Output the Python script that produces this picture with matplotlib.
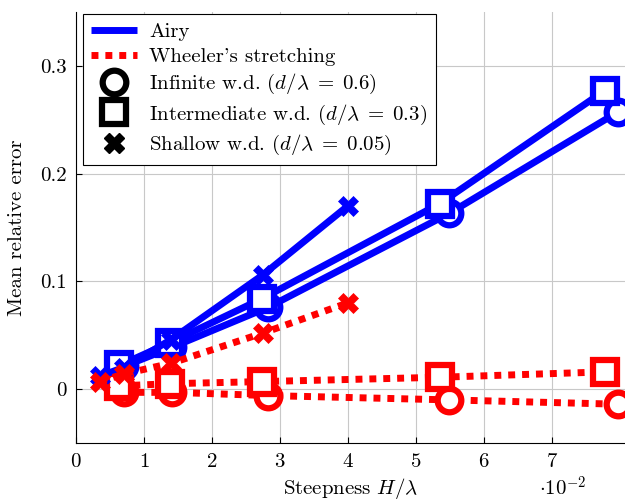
import matplotlib.pyplot as plt
from matplotlib.lines import Line2D

plt.rcParams['font.family'] = 'serif'
plt.rcParams['font.serif'] = ['cmr10']
plt.rcParams['mathtext.fontset'] = 'cm'
plt.rcParams['axes.formatter.use_mathtext'] = True

FS = 15

# steepness (x 1e-2) for each water depth
x_inf = [0.70, 1.42, 2.83, 5.49, 7.97]
x_int = [0.64, 1.38, 2.74, 5.35, 7.78]
x_sha = [0.35, 0.70, 1.40, 2.75, 4.00]

# Airy
airy_inf = [0.021, 0.039, 0.076, 0.163, 0.257]
airy_int = [0.022, 0.043, 0.084, 0.172, 0.277]
airy_sha = [0.012, 0.020, 0.046, 0.106, 0.170]

# Wheeler's stretching
wheel_inf = [-0.003, -0.003, -0.006, -0.010, -0.014]
wheel_int = [0.003, 0.005, 0.007, 0.011, 0.016]
wheel_sha = [0.007, 0.014, 0.024, 0.052, 0.080]

fig = plt.figure(figsize=(6.25, 5.01), dpi=100)
ax = fig.add_axes([0.1216, 0.1158, 0.8784, 0.8602])

lw = 5
ms = 17
mew = 4.5
dots = (0, (1, 1))

series = [
    (x_inf, airy_inf, wheel_inf, 'o'),
    (x_int, airy_int, wheel_int, 's'),
    (x_sha, airy_sha, wheel_sha, 'X'),
]
for xs, ya, yw, m in series:
    if m == 'X':
        kw = dict(marker='X', markersize=15, markeredgewidth=0.5)
        fa, fw = 'blue', 'red'
    else:
        kw = dict(marker=m, markersize=ms, markeredgewidth=mew)
        fa = fw = 'white'
    ax.plot(xs, ya, color='blue', lw=lw, solid_capstyle='butt',
            markerfacecolor=fa, markeredgecolor='blue', **kw)
    ax.plot(xs, yw, color='red', lw=lw, linestyle=dots, dash_capstyle='butt',
            markerfacecolor=fw, markeredgecolor='red', **kw)

ax.set_xlim(0, 8.08)
ax.set_ylim(-0.05, 0.35)
ax.set_xticks(range(8))
ax.set_yticks([0, 0.1, 0.2, 0.3])
ax.set_yticklabels(['0', '0.1', '0.2', '0.3'])
ax.grid(True, color='#c8c8c8', lw=0.8)
ax.set_axisbelow(True)
ax.spines['top'].set_visible(False)
ax.spines['right'].set_visible(False)
ax.tick_params(direction='in', length=4, width=0.8, labelsize=FS, pad=7)
ax.set_xlabel(r'Steepness $H/\lambda$', fontsize=FS, labelpad=4)
ax.set_ylabel('Mean relative error', fontsize=FS, labelpad=10)
fig.text(0.862, 0.002, r'$\cdot10^{-2}$', fontsize=FS, ha='left', va='bottom')

handles = [
    Line2D([], [], color='blue', lw=lw, solid_capstyle='butt'),
    Line2D([], [], color='red', lw=lw, linestyle=dots, dash_capstyle='butt'),
    Line2D([], [], color='black', ls='none', marker='o', markersize=ms,
           markeredgewidth=mew, markerfacecolor='white'),
    Line2D([], [], color='black', ls='none', marker='s', markersize=ms,
           markeredgewidth=mew, markerfacecolor='white'),
    Line2D([], [], color='black', ls='none', marker='X', markersize=15),
]
labels = ['Airy', "Wheeler's stretching",
          r'Infinite w.d. ($d/\lambda\;=\;0.6$)',
          r'Intermediate w.d. ($d/\lambda\;=\;0.3$)',
          r'Shallow w.d. ($d/\lambda\;=\;0.05$)']
leg = ax.legend(handles, labels, loc='upper left', bbox_to_anchor=(0.012, 0.995),
                borderaxespad=0, fancybox=False, edgecolor='black', framealpha=1,
                handlelength=2.2, handletextpad=0.6, borderpad=0.4,
                labelspacing=0.3, fontsize=FS)
leg.get_frame().set_linewidth(0.8)

fig.savefig('out.png', dpi=100)
